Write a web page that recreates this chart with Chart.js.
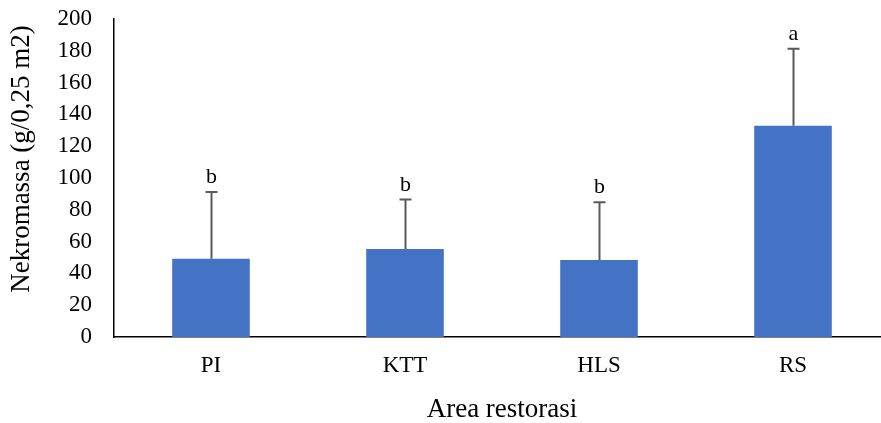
<!DOCTYPE html>
<html>
<head>
<meta charset="utf-8">
<script src="https://cdn.jsdelivr.net/npm/chart.js@4"></script>
<style>
  html, body { margin: 0; padding: 0; overflow: hidden; background: #fff; }
  #wrap { width: 900px; height: 423px; }
</style>
</head>
<body>
<div id="wrap"><canvas id="chart"></canvas></div>
<script>
const categories = ['PI', 'KTT', 'HLS', 'RS'];
const means = [49.2, 55.3, 48.4, 132.9];
const errors = [42.0, 31.1, 36.3, 48.4];
const letters = ['b', 'b', 'b', 'a'];
const yTicks = [0, 20, 40, 60, 80, 100, 120, 140, 160, 180, 200];

const serif = '"Liberation Serif", "Times New Roman", serif';

// error bars (upper only) + significance letters + y title
const extras = {
    id: 'extras',
    afterDatasetsDraw(chart) {
        const ctx = chart.ctx;
        const y = chart.scales.y;
        const meta = chart.getDatasetMeta(0);
        ctx.save();
        meta.data.forEach((bar, i) => {
            const x = Math.round(bar.x) + 0.5;
            const yTop = y.getPixelForValue(means[i] + errors[i]);
            const yBase = y.getPixelForValue(means[i]);
            ctx.strokeStyle = '#595959';
            ctx.lineWidth = 2;
            ctx.beginPath();
            ctx.moveTo(x, yBase);
            ctx.lineTo(x, yTop);
            ctx.moveTo(x - 6, yTop);
            ctx.lineTo(x + 6, yTop);
            ctx.stroke();
            ctx.fillStyle = '#000';
            ctx.font = '22px ' + serif;
            ctx.textAlign = 'center';
            ctx.textBaseline = 'alphabetic';
            ctx.fillText(letters[i], x, yTop - 9);
        });
        // y axis title
        ctx.translate(22, 159);
        ctx.rotate(-Math.PI / 2);
        ctx.fillStyle = '#000';
        ctx.font = '27px ' + serif;
        ctx.textAlign = 'center';
        ctx.textBaseline = 'middle';
        ctx.fillText('Nekromassa (g/0,25 m2)', 0, 0);
        ctx.restore();
    }
};

new Chart(document.getElementById('chart').getContext('2d'), {
    type: 'bar',
    data: {
        labels: categories,
        datasets: [{
            data: means,
            backgroundColor: '#4472C4',
            borderWidth: 0,
            barPercentage: 0.4,
            categoryPercentage: 1.0
        }]
    },
    options: {
        responsive: true,
        maintainAspectRatio: false,
        animation: false,
        layout: { padding: { top: 19, right: 10, left: 0, bottom: 0 } },
        plugins: {
            legend: { display: false },
            tooltip: { enabled: false }
        },
        scales: {
            x: {
                grid: { display: false, drawTicks: false },
                border: { color: '#000', width: 1.5 },
                ticks: {
                    color: '#000',
                    font: { family: serif, size: 23 },
                    padding: 15
                },
                title: {
                    display: true,
                    text: 'Area restorasi',
                    color: '#000',
                    font: { family: serif, size: 27 },
                    padding: { top: 10, bottom: -3 }
                },
                afterFit(scale) { scale.height = 86; }
            },
            y: {
                min: 0,
                max: 200,
                afterBuildTicks(scale) {
                    scale.ticks = yTicks.map(v => ({ value: v }));
                },
                grid: { display: false, drawTicks: false },
                border: { color: '#000', width: 1.5 },
                ticks: {
                    color: '#000',
                    font: { family: serif, size: 23 },
                    padding: 22,
                    autoSkip: false
                },
                afterFit(scale) {
                    scale.width = 114;
                    scale.paddingTop = 0;
                    scale.paddingBottom = 0;
                }
            }
        }
    },
    plugins: [extras]
});
</script>
</body>
</html>
